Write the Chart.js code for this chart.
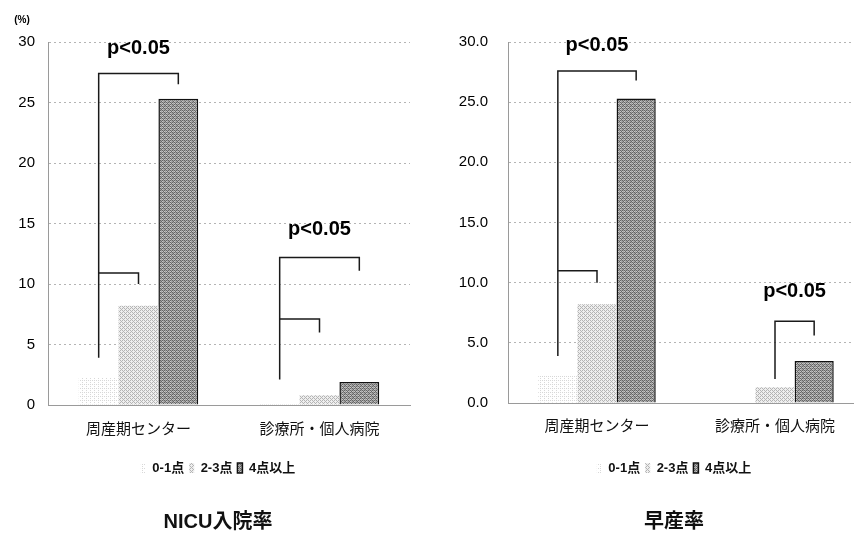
<!DOCTYPE html>
<html>
<head>
<meta charset="utf-8">
<script src="https://cdn.jsdelivr.net/npm/chart.js@4/dist/chart.umd.min.js"></script>
<style>
  html, body { margin: 0; padding: 0; background: #fff; overflow: hidden; }
  body { width: 854px; height: 536px; position: relative; }
  canvas { position: absolute; top: 0; }
  #nicu { left: 0; }
  #preterm { left: 430px; }
</style>
</head>
<body>
<canvas id="nicu" width="430" height="536"></canvas>
<canvas id="preterm" width="434" height="536"></canvas>
<script>
// categories and series
const categories = ['周産期センター', '診療所・個人病院'];
const seriesNames = ['0-1点', '2-3点', '4点以上'];

// NICU入院率 (%)
const nicuLow = [2.3, 0.1];
const nicuMid = [8.2, 0.8];
const nicuHigh = [25.3, 1.9];

// 早産率 (%)
const pretermLow = [2.3, 0.0];
const pretermMid = [8.2, 1.3];
const pretermHigh = [25.3, 3.5];

const yTicks = [0, 5, 10, 15, 20, 25, 30];

// significance brackets: [category, from series, to series, top, left end, right end]
const nicuBrackets = [
    [0, 0, 2, 27.4, 3.9, 26.5],
    [0, 0, 1, 10.9, 10.9, 10.0],
    [1, 0, 2, 12.2, 2.1, 11.1],
    [1, 0, 1, 7.1, 7.1, 6.0]
];
const pretermBrackets = [
    [0, 0, 2, 27.6, 3.9, 26.8],
    [0, 0, 1, 11.0, 11.0, 10.0],
    [1, 1, 2, 6.8, 2.0, 5.6]
];
// p value labels: [category, from series, to series, level]
const nicuPLabels = [[0, 0, 2, 29.5], [1, 0, 2, 14.5]];
const pretermPLabels = [[0, 0, 2, 29.7], [1, 1, 2, 9.3]];

Chart.defaults.font.family = "'Liberation Sans', 'Noto Sans CJK JP', sans-serif";
Chart.defaults.color = '#000';

// ordered dither pattern so the bars look stippled like the print
const bayer = [[0, 8, 2, 10], [12, 4, 14, 6], [3, 11, 1, 9], [15, 7, 13, 5]];
function makePattern(bg, dot, level, light, lightLevel) {
    const c = document.createElement('canvas');
    c.width = 4;
    c.height = 4;
    const g = c.getContext('2d');
    g.fillStyle = bg;
    g.fillRect(0, 0, 4, 4);
    for (let i = 0; i < 4; i++) {
        for (let j = 0; j < 4; j++) {
            if (bayer[i][j] < level) {
                g.fillStyle = dot;
                g.fillRect(j, i, 1, 1);
            } else if (light && bayer[i][j] >= 16 - lightLevel) {
                g.fillStyle = light;
                g.fillRect(j, i, 1, 1);
            }
        }
    }
    return g.createPattern(c, 'repeat');
}

const fills = [
    makePattern('#ffffff', '#d8d8d8', 3),
    makePattern('#eeeeee', '#b4b4b4', 6),
    makePattern('#a2a2a2', '#666666', 6, '#c8c8c8', 3)
];

const bracketPlugin = {
    id: 'brackets',
    afterDatasetsDraw(chart, args, opts) {
        const { ctx, chartArea } = chart;
        const y = chart.scales.y;
        const barX = (ds, cat) => chart.getDatasetMeta(ds).data[cat].x;

        ctx.save();
        ctx.strokeStyle = '#1a1a1a';
        ctx.lineWidth = 1.5;
        opts.brackets.forEach(([cat, from, to, top, leftEnd, rightEnd]) => {
            const x1 = barX(from, cat);
            const x2 = barX(to, cat);
            ctx.beginPath();
            ctx.moveTo(x1, y.getPixelForValue(leftEnd));
            ctx.lineTo(x1, y.getPixelForValue(top));
            ctx.lineTo(x2, y.getPixelForValue(top));
            ctx.lineTo(x2, y.getPixelForValue(rightEnd));
            ctx.stroke();
        });

        ctx.fillStyle = '#000';
        ctx.textAlign = 'center';
        ctx.textBaseline = 'middle';
        ctx.font = "bold 20px 'Liberation Sans', sans-serif";
        opts.labels.forEach(([cat, from, to, level]) => {
            const x = (barX(from, cat) + barX(to, cat)) / 2;
            ctx.fillText('p<0.05', x, y.getPixelForValue(level));
        });

        if (opts.unit) {
            ctx.font = "bold 10px 'Liberation Sans', sans-serif";
            ctx.fillText(opts.unit, chartArea.left - 26, chartArea.top - 22);
        }
        ctx.restore();
    }
};

function buildChart(id, low, mid, high, cfg) {
    const values = [low, mid, high];
    const ctx = document.getElementById(id).getContext('2d');
    return new Chart(ctx, {
        type: 'bar',
        data: {
            labels: categories,
            datasets: seriesNames.map((name, i) => ({
                label: name,
                data: values[i],
                backgroundColor: fills[i],
                borderColor: '#111',
                borderWidth: i === 2 ? 1.5 : 0,
                borderSkipped: 'start',
                categoryPercentage: 0.66,
                barPercentage: 1.0
            }))
        },
        options: {
            responsive: false,
            animation: false,
            devicePixelRatio: 1,
            layout: {
                padding: { top: 42, left: cfg.padLeft, right: cfg.padRight, bottom: 2 }
            },
            scales: {
                x: {
                    grid: { display: false, drawTicks: false },
                    border: { display: true, color: '#9a9a9a', width: 1, dash: [2, 3] },
                    ticks: {
                        padding: cfg.xPad,
                        font: { size: 15 },
                        color: '#111'
                    },
                    afterFit(scale) { scale.height = cfg.xHeight; }
                },
                y: {
                    min: 0,
                    max: 30,
                    afterBuildTicks(scale) { scale.ticks = yTicks.map(v => ({ value: v })); },
                    grid: { color: '#b4b4b4', lineWidth: 1, drawTicks: false },
                    border: { display: true, color: '#9a9a9a', width: 1, dash: [2, 3] },
                    ticks: {
                        padding: cfg.yPad,
                        font: { size: 15 },
                        color: '#000',
                        callback: v => cfg.decimals ? Number(v).toFixed(1) : v
                    },
                    afterFit(scale) {
                        // narrow axis box so the legend/title centre like the original,
                        // and don't clip the tick labels to that box
                        scale.width = cfg.yWidth;
                        scale._computeLabelArea = () => undefined;
                    }
                }
            },
            plugins: {
                legend: {
                    position: 'bottom',
                    labels: {
                        boxWidth: 5,
                        boxHeight: 10,
                        padding: 5,
                        font: { size: 13, weight: 'bold' },
                        color: '#111'
                    }
                },
                title: {
                    display: true,
                    position: 'bottom',
                    text: cfg.title,
                    font: { size: 20, weight: 'bold' },
                    color: '#111',
                    padding: { top: 25.5, bottom: 0 }
                },
                tooltip: { enabled: false },
                brackets: {
                    brackets: cfg.brackets,
                    labels: cfg.pLabels,
                    unit: cfg.unit
                }
            }
        },
        plugins: [bracketPlugin]
    });
}

// dotted grid lines
Chart.defaults.scale.grid.borderDash = [2, 3];

buildChart('nicu', nicuLow, nicuMid, nicuHigh, {
    title: 'NICU入院率',
    padLeft: 26, padRight: 20,
    yWidth: 22, yPad: 13,
    xHeight: 51.5, xPad: 16,
    decimals: false,
    unit: '(%)',
    brackets: nicuBrackets,
    pLabels: nicuPLabels
});

buildChart('preterm', pretermLow, pretermMid, pretermHigh, {
    title: '早産率',
    padLeft: 54, padRight: 0,
    yWidth: 24, yPad: 20,
    xHeight: 53.5, xPad: 15,
    decimals: true,
    unit: '',
    brackets: pretermBrackets,
    pLabels: pretermPLabels
});
</script>
</body>
</html>
